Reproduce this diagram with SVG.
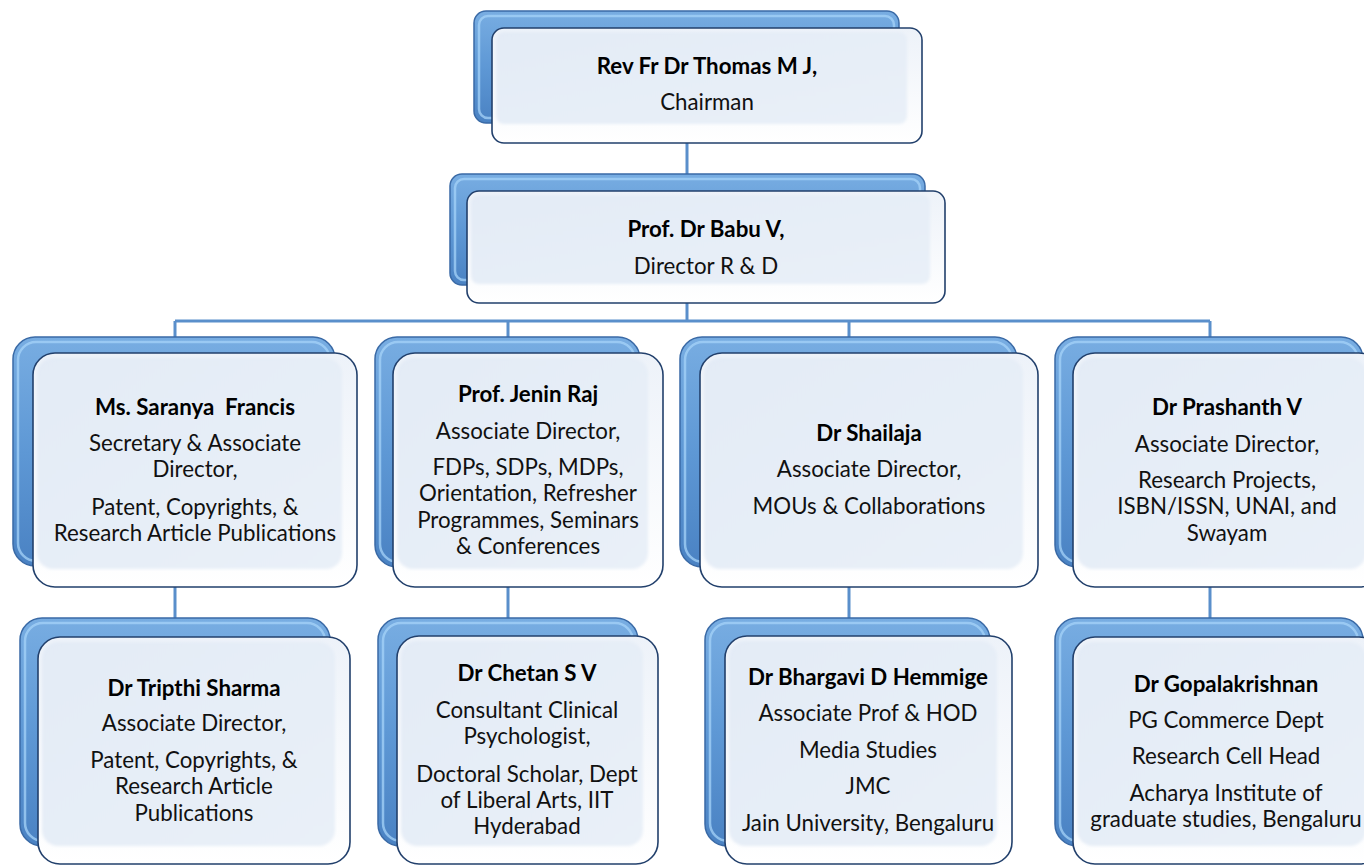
<svg xmlns="http://www.w3.org/2000/svg" width="1364" height="865" viewBox="0 0 1364 865">
<defs>
<linearGradient id="blue" x1="0" y1="0" x2="0" y2="1">
<stop offset="0" stop-color="#78ade2"/>
<stop offset="0.5" stop-color="#5e98d5"/>
<stop offset="1" stop-color="#4a82c3"/>
</linearGradient>
<linearGradient id="rim" x1="0" y1="0" x2="0" y2="1">
<stop offset="0" stop-color="#edf2f9"/>
<stop offset="1" stop-color="#ffffff"/>
</linearGradient>
<linearGradient id="face" x1="0" y1="0" x2="1" y2="1">
<stop offset="0" stop-color="#e3ebf6"/>
<stop offset="1" stop-color="#e9f0f8"/>
</linearGradient>
<filter id="soft" x="-5%" y="-5%" width="110%" height="110%">
<feGaussianBlur stdDeviation="1.6"/>
</filter>
</defs>
<style>
.b{fill:url(#blue);stroke:#3a6aa6;stroke-width:1.5}
.bh{fill:none;stroke:#a6d3f8;stroke-width:2.5;opacity:.75}
.f{fill:url(#rim);stroke:#22406c;stroke-width:1.6}
.fi{fill:url(#face);filter:url(#soft)}
.c{fill:none;stroke:#5a8fcb;stroke-width:3}
text{font-family:Lato,"Open Sans","Liberation Sans",sans-serif;font-size:22.3px;fill:#111;text-anchor:middle;white-space:pre}
.n{font-weight:bold;fill:#000}
</style>
<rect width="1364" height="865" fill="#ffffff"/>

<g id="connectors">
<path class="c" d="M687 143V191"/>
<path class="c" d="M687 303V321"/>
<path class="c" d="M175 321H1210"/>
<path class="c" d="M175 321V337M508 321V337M849 321V337M1210 321V337"/>
<path class="c" d="M175 587V618M508 587V618M849 587V618M1210 587V618"/>
</g>

<g id="chairman">
<rect class="b" x="474" y="11" width="425" height="112" rx="12"/>
<rect class="bh" x="479" y="16" width="415" height="102" rx="9"/>
<rect class="f" x="492" y="28" width="430" height="115" rx="12"/>
<rect class="fi" x="496" y="32" width="411" height="92" rx="8"/>
<text class="n" x="707" y="74">Rev Fr Dr Thomas M J,</text>
<text x="707" y="110">Chairman</text>
</g>

<g id="director">
<rect class="b" x="450" y="174" width="475" height="111" rx="12"/>
<rect class="bh" x="455" y="179" width="465" height="101" rx="9"/>
<rect class="f" x="467" y="191" width="478" height="112" rx="12"/>
<rect class="fi" x="471" y="195" width="459" height="89" rx="8"/>
<text class="n" x="706" y="237">Prof. Dr Babu V,</text>
<text x="706" y="274">Director R &amp; D</text>
</g>

<g id="saranya">
<rect class="b" x="13" y="337" width="322" height="229" rx="22"/>
<rect class="bh" x="18" y="342" width="312" height="219" rx="18"/>
<rect class="f" x="33" y="353" width="324" height="234" rx="22"/>
<rect class="fi" x="37" y="358" width="305" height="211" rx="16"/>
<text class="n" x="195" y="415">Ms. Saranya  Francis</text>
<text x="195" y="451">Secretary &amp; Associate</text>
<text x="195" y="477">Director,</text>
<text x="195" y="515">Patent, Copyrights, &amp;</text>
<text x="195" y="541">Research Article Publications</text>
</g>

<g id="jenin">
<rect class="b" x="375" y="337" width="265" height="230" rx="22"/>
<rect class="bh" x="380" y="342" width="255" height="220" rx="18"/>
<rect class="f" x="393" y="353" width="270" height="234" rx="22"/>
<rect class="fi" x="397" y="358" width="251" height="211" rx="16"/>
<text class="n" x="528" y="402">Prof. Jenin Raj</text>
<text x="528" y="439">Associate Director,</text>
<text x="528" y="475">FDPs, SDPs, MDPs,</text>
<text x="528" y="501">Orientation, Refresher</text>
<text x="528" y="528">Programmes, Seminars</text>
<text x="528" y="554">&amp; Conferences</text>
</g>

<g id="shailaja">
<rect class="b" x="680" y="337" width="337" height="230" rx="22"/>
<rect class="bh" x="685" y="342" width="327" height="220" rx="18"/>
<rect class="f" x="700" y="353" width="338" height="234" rx="22"/>
<rect class="fi" x="704" y="358" width="319" height="211" rx="16"/>
<text class="n" x="869" y="441">Dr Shailaja</text>
<text x="869" y="477">Associate Director,</text>
<text x="869" y="514">MOUs &amp; Collaborations</text>
</g>

<g id="prashanth">
<rect class="b" x="1055" y="337" width="308" height="230" rx="22"/>
<rect class="bh" x="1060" y="342" width="298" height="220" rx="18"/>
<rect class="f" x="1073" y="353" width="308" height="234" rx="22"/>
<rect class="fi" x="1077" y="358" width="289" height="211" rx="16"/>
<text class="n" x="1227" y="415">Dr Prashanth V</text>
<text x="1227" y="452">Associate Director,</text>
<text x="1227" y="488">Research Projects,</text>
<text x="1227" y="514">ISBN/ISSN, UNAI, and</text>
<text x="1227" y="541">Swayam</text>
</g>

<g id="tripthi">
<rect class="b" x="20" y="618" width="310" height="228" rx="22"/>
<rect class="bh" x="25" y="623" width="300" height="218" rx="18"/>
<rect class="f" x="38" y="637" width="312" height="227" rx="22"/>
<rect class="fi" x="42" y="642" width="293" height="204" rx="16"/>
<text class="n" x="194" y="696">Dr Tripthi Sharma</text>
<text x="194" y="731">Associate Director,</text>
<text x="194" y="768">Patent, Copyrights, &amp;</text>
<text x="194" y="794">Research Article</text>
<text x="194" y="821">Publications</text>
</g>

<g id="chetan">
<rect class="b" x="378" y="618" width="260" height="228" rx="22"/>
<rect class="bh" x="383" y="623" width="250" height="218" rx="18"/>
<rect class="f" x="397" y="636" width="261" height="228" rx="22"/>
<rect class="fi" x="401" y="641" width="242" height="205" rx="16"/>
<text class="n" x="527" y="681">Dr Chetan S V</text>
<text x="527" y="718">Consultant Clinical</text>
<text x="527" y="744">Psychologist,</text>
<text x="527" y="782">Doctoral Scholar, Dept</text>
<text x="527" y="808">of Liberal Arts, IIT</text>
<text x="527" y="834">Hyderabad</text>
</g>

<g id="bhargavi">
<rect class="b" x="705" y="618" width="285" height="228" rx="22"/>
<rect class="bh" x="710" y="623" width="275" height="218" rx="18"/>
<rect class="f" x="725" y="636" width="287" height="228" rx="22"/>
<rect class="fi" x="729" y="641" width="268" height="205" rx="16"/>
<text class="n" x="868" y="685">Dr Bhargavi D Hemmige</text>
<text x="868" y="721">Associate Prof &amp; HOD</text>
<text x="868" y="758">Media Studies</text>
<text x="868" y="794">JMC</text>
<text x="868" y="831">Jain University, Bengaluru</text>
</g>

<g id="gopalakrishnan">
<rect class="b" x="1055" y="618" width="308" height="228" rx="22"/>
<rect class="bh" x="1060" y="623" width="298" height="218" rx="18"/>
<rect class="f" x="1073" y="637" width="308" height="227" rx="22"/>
<rect class="fi" x="1077" y="642" width="289" height="204" rx="16"/>
<text class="n" x="1226" y="692">Dr Gopalakrishnan</text>
<text x="1226" y="728">PG Commerce Dept</text>
<text x="1226" y="764">Research Cell Head</text>
<text x="1226" y="801">Acharya Institute of</text>
<text x="1226" y="827">graduate studies, Bengaluru</text>
</g>
</svg>
